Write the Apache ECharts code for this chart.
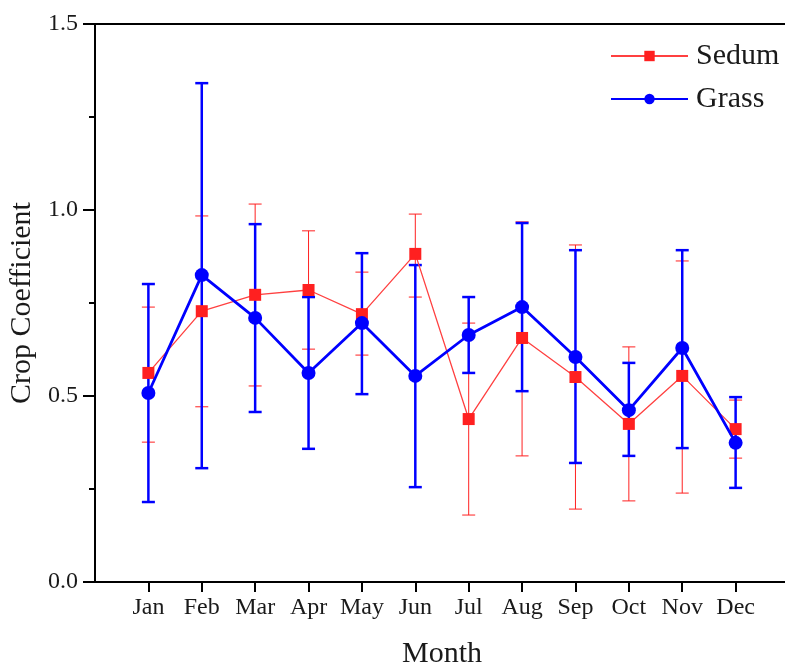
<!DOCTYPE html>
<html>
<head>
<meta charset="utf-8">
<script src="https://cdn.jsdelivr.net/npm/echarts@6/dist/echarts.min.js"></script>
<style>
html,body{margin:0;padding:0;background:#fff;}
#chart{width:785px;height:669px;}
</style>
</head>
<body>
<div id="chart"></div>
<script>
var months = ['Jan','Feb','Mar','Apr','May','Jun','Jul','Aug','Sep','Oct','Nov','Dec'];
var xCategories = [' '].concat(months).concat(['  ']);
var yTicks = [0, 0.5, 1.0, 1.5];

var sedum     = [0.562, 0.728, 0.772, 0.785, 0.720, 0.882, 0.438, 0.656, 0.551, 0.425, 0.554, 0.411];
var sedumLow  = [0.376, 0.471, 0.527, 0.626, 0.610, 0.766, 0.180, 0.339, 0.196, 0.218, 0.239, 0.333];
var sedumHigh = [0.739, 0.984, 1.016, 0.944, 0.833, 0.989, 0.696, 0.968, 0.906, 0.632, 0.863, 0.489];

var grass     = [0.508, 0.825, 0.710, 0.562, 0.696, 0.554, 0.664, 0.739, 0.605, 0.462, 0.629, 0.374];
var grassLow  = [0.215, 0.306, 0.457, 0.358, 0.505, 0.255, 0.562, 0.513, 0.320, 0.339, 0.360, 0.253];
var grassHigh = [0.801, 1.341, 0.962, 0.766, 0.884, 0.852, 0.766, 0.965, 0.892, 0.589, 0.892, 0.497];

var FONT = '"Liberation Serif", "DejaVu Serif", serif';
var RED = '#ff2020';
var BLUE = '#0000ff';

function pts(vals){ return vals.map(function(v,i){ return [i+1, v]; }); }
function errData(lo, hi){ return lo.map(function(v,i){ return [i+1, v, hi[i]]; }); }
function errRender(color, width, cap){
  return function(params, api){
    var x = api.value(0);
    var lo = api.coord([x, api.value(1)]);
    var hi = api.coord([x, api.value(2)]);
    var st = {stroke: color, lineWidth: width};
    return {type:'group', children:[
      {type:'line', shape:{x1:lo[0], y1:lo[1], x2:hi[0], y2:hi[1]}, style:st},
      {type:'line', shape:{x1:lo[0]-cap, y1:lo[1], x2:lo[0]+cap, y2:lo[1]}, style:st},
      {type:'line', shape:{x1:hi[0]-cap, y1:hi[1], x2:hi[0]+cap, y2:hi[1]}, style:st}
    ]};
  };
}

var chart = echarts.init(document.getElementById('chart'), null, {renderer:'canvas'});
chart.setOption({
  animation: false,
  backgroundColor: '#fff',
  grid: {left: 95, top: 24, width: 694, bottom: 87, containLabel: false, outerBoundsMode: 'none',
    show: true, borderColor: '#000', borderWidth: 2, backgroundColor: 'transparent'},
  legend: {
    orient: 'vertical', left: 605, top: 36, itemWidth: 77, itemHeight: 13, itemGap: 13,
    textStyle: {fontFamily: FONT, fontSize: 30, color: '#1a1a1a', lineHeight: 30, padding: [0,0,0,3]},
    data: ['Sedum', 'Grass']
  },
  xAxis: {
    type: 'category', data: xCategories, boundaryGap: false,
    name: 'Month', nameLocation: 'middle', nameGap: 57,
    nameTextStyle: {fontFamily: FONT, fontSize: 30, color: '#1a1a1a'},
    axisLine: {lineStyle: {color: '#000', width: 2}},
    axisTick: {show: true, length: 10, lineStyle: {color: '#000', width: 2},
      interval: function(i){ return i >= 1 && i <= months.length; }},
    axisLabel: {fontFamily: FONT, fontSize: 24, color: '#1a1a1a', margin: 14,
      interval: function(i){ return i >= 1 && i <= months.length; }},
    splitLine: {show: false}
  },
  yAxis: {
    type: 'value', min: yTicks[0], max: yTicks[yTicks.length-1], interval: 0.5,
    name: 'Crop Coefficient', nameLocation: 'middle', nameGap: 51,
    nameTextStyle: {fontFamily: FONT, fontSize: 30, color: '#1a1a1a'},
    axisLine: {show: true, lineStyle: {color: '#000', width: 2}},
    axisTick: {show: true, length: 12, lineStyle: {color: '#000', width: 2}},
    minorTick: {show: true, splitNumber: 2, length: 6, lineStyle: {color: '#000', width: 2}},
    axisLabel: {fontFamily: FONT, fontSize: 24, color: '#1a1a1a', margin: 17,
      formatter: function(v){ return v.toFixed(1); }},
    splitLine: {show: false}
  },
  series: [
    {type: 'custom', name: 'SedumErr', renderItem: errRender(RED, 1, 6.5), data: errData(sedumLow, sedumHigh), z: 1, silent: true},
    {type: 'custom', name: 'GrassErr', renderItem: errRender(BLUE, 2.5, 6.5), data: errData(grassLow, grassHigh), z: 2, silent: true},
    {type: 'line', name: 'Sedum', data: pts(sedum), symbol: 'rect', symbolSize: 12,
      itemStyle: {color: RED}, lineStyle: {color: '#ff4040', width: 1.3}, z: 3},
    {type: 'line', name: 'Grass', data: pts(grass), symbol: 'circle', symbolSize: 14,
      itemStyle: {color: BLUE}, lineStyle: {color: BLUE, width: 2.8}, z: 4}
  ]
});
</script>
</body>
</html>
